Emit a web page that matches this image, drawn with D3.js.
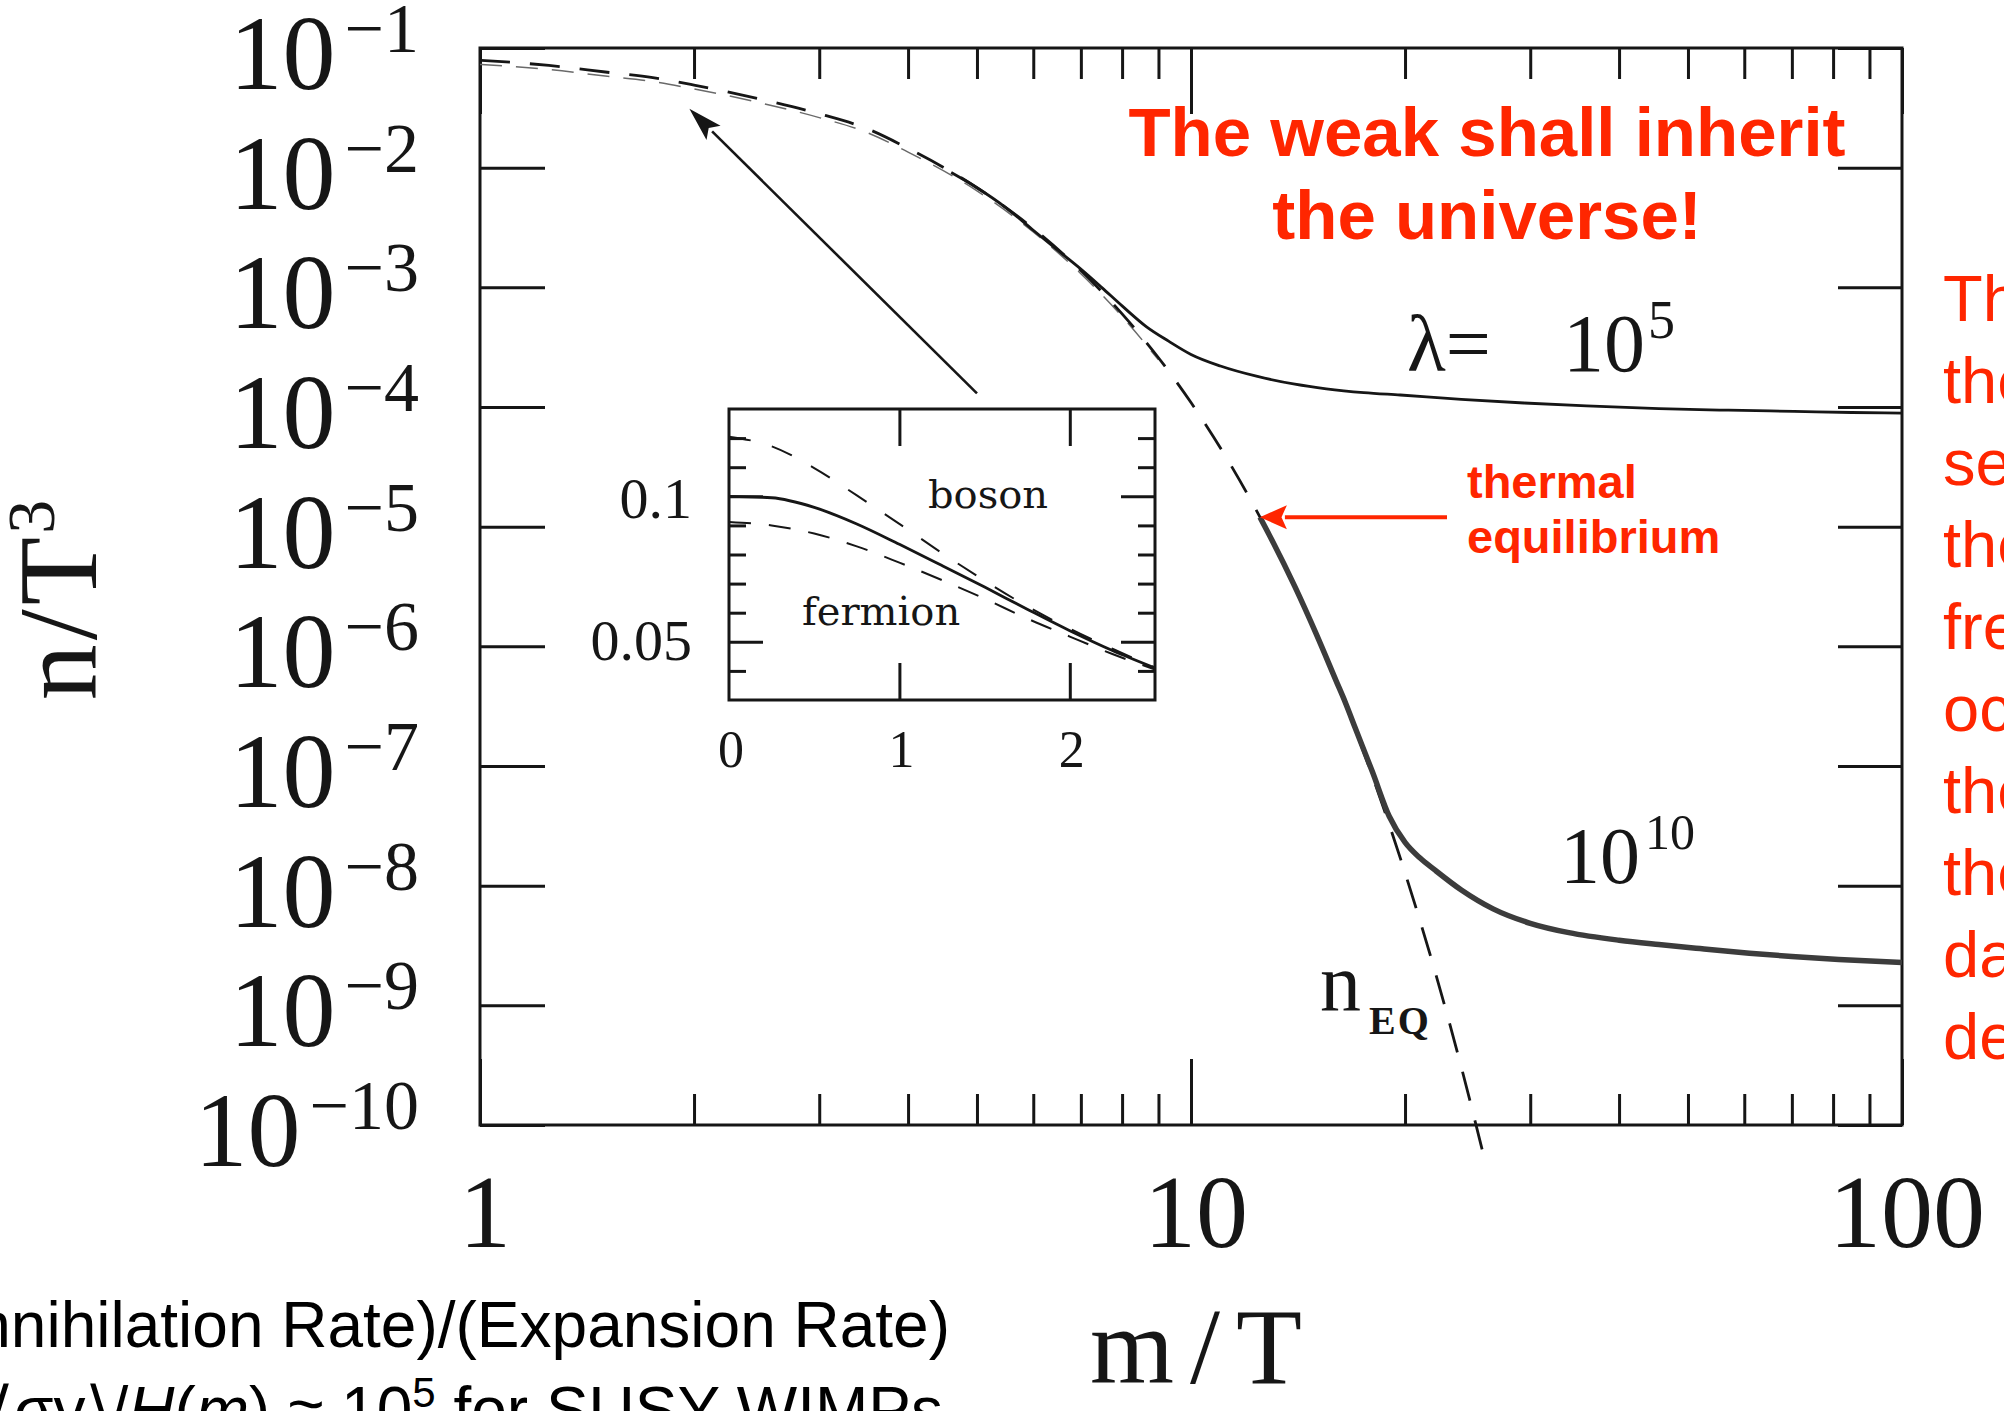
<!DOCTYPE html>
<html>
<head>
<meta charset="utf-8">
<script src="https://cdn.jsdelivr.net/npm/d3@7"></script>
<style>
  body { margin: 0; background: #ffffff; }
  svg { display: block; }
</style>
</head>
<body>
<svg id="chart" width="2004" height="1411"></svg>
<script>
// ---------- main panel: n/T^3 versus m/T ----------
const yExponents = [-1, -2, -3, -4, -5, -6, -7, -8, -9, -10];
const xTickLabels = ["1", "10", "100"];
const xMajorTicks = [1, 10, 100];
const xMinorTicks = [2, 3, 4, 5, 6, 7, 8, 9, 20, 30, 40, 50, 60, 70, 80, 90];

// equilibrium abundance n_EQ (dashed)
const eqX = [1, 1.25, 1.5, 1.75, 2, 2.5, 3, 3.5, 4, 5, 6, 7, 8, 9, 10, 12, 14, 16, 18, 20, 22, 24, 26];
const eqN = [0.079, 0.0715, 0.063, 0.0565, 0.049, 0.037, 0.0282, 0.0212, 0.0145, 0.0068, 0.0031,
             1.38e-3, 6.0e-4, 2.58e-4, 1.09e-4, 1.88e-5, 3.15e-6, 5.1e-7, 8.2e-8, 1.28e-8,
             1.99e-9, 3.04e-10, 4.6e-11];

// companion (fermion) equilibrium trace, thin dashes just under n_EQ
const eqFermiX = [1, 1.25, 1.5, 1.75, 2, 2.5, 3, 3.5, 4, 5, 6, 7, 8, 9];
const eqFermiN = [0.0728, 0.0662, 0.0583, 0.0524, 0.0455, 0.0344, 0.0262, 0.0197, 0.0135, 0.0064,
                  0.0029, 1.3e-3, 5.7e-4, 2.48e-4];

// actual abundance, lambda = 1e5
const lam5X = [4.6, 5, 5.5, 6, 6.5, 7, 7.5, 8, 8.65, 9.3, 10, 11, 12.4, 14, 15.5, 17.5, 19.7,
               24, 29.4, 36, 45.5, 57, 70.5, 85, 100];
const lam5N = [9.1e-3, 6.8e-3, 4.6e-3, 3.0e-3, 2.03e-3, 1.42e-3, 9.9e-4, 7.0e-4, 4.7e-4, 3.55e-4,
               2.75e-4, 2.2e-4, 1.8e-4, 1.55e-4, 1.42e-4, 1.32e-4, 1.26e-4, 1.16e-4, 1.08e-4,
               1.02e-4, 9.7e-5, 9.4e-5, 9.2e-5, 9.0e-5, 8.9e-5];

// actual abundance, lambda = 1e10
const lam10X = [12.5, 13, 14, 15, 16, 16.5, 17, 18, 19, 20, 21, 22, 24, 26.6, 30, 34, 40, 45.5,
                52, 61, 70, 81.5, 100];
const lam10N = [1.2e-5, 7.7e-6, 3.15e-6, 1.27e-6, 5.15e-7, 3.35e-7, 2.12e-7, 8.9e-8, 3.8e-8,
                2.3e-8, 1.7e-8, 1.36e-8, 9.2e-9, 6.4e-9, 4.85e-9, 4.05e-9, 3.5e-9, 3.22e-9,
                2.98e-9, 2.73e-9, 2.56e-9, 2.42e-9, 2.28e-9];

// ---------- inset: linear scale near m/T ~ 0 ----------
const insetX = [0, 0.25, 0.5, 0.75, 1, 1.25, 1.5, 1.75, 2, 2.25, 2.5];
const insetMB = [0.100, 0.0995, 0.0962, 0.0905, 0.0835, 0.0762, 0.0688, 0.0612, 0.0538, 0.0470, 0.0410];
const insetBoson = [0.1205, 0.1172, 0.1097, 0.1003, 0.0905, 0.0805, 0.0710, 0.0622, 0.0545, 0.0476, 0.0412];
const insetFermion = [0.0912, 0.0900, 0.0872, 0.0828, 0.0772, 0.0712, 0.0648, 0.0580, 0.0518, 0.0458, 0.0405];
const insetXTicks = [0, 1, 2];
const insetYMajor = [0.05, 0.1];
const insetYMinor = [0.04, 0.06, 0.07, 0.08, 0.09, 0.11, 0.12];
const insetYLabels = ["0.05", "0.1"];

// annotation arrows, in data coordinates
const pointerFrom = [5.0, 1.3e-4], pointerTo = [1.97, 0.031];
const eqArrowTo = [12.5, 1.2e-5];

// slide text
const headline = ["The weak shall inherit", "the universe!"];
const eqNote = ["thermal", "equilibrium"];
const sideNote = ["The relic abundance is", "the number density", "set at freeze-out;",
                  "the earlier", "freeze-out", "occurs, the", "the higher", "the final",
                  "dark matter", "density."];

const RED = "#ff2600";
const INK = "#161616";
const SERIF = "'Liberation Serif', 'Times New Roman', serif";
const SANS = "'Liberation Sans', Arial, Helvetica, sans-serif";

const svg = d3.select("#chart");
svg.append("rect").attr("width", 2004).attr("height", 1411).attr("fill", "#fff");

const plot = { left: 480, right: 1902, top: 48, bottom: 1125 };
const x = d3.scaleLog().domain([1, 100]).range([plot.left, plot.right]);
const y = d3.scaleLog().domain([1e-10, 1e-1]).range([plot.bottom, plot.top]);

// ---- axes (ticks point inward on all four sides) ----
function styleAxis(g) {
  g.select(".domain").remove();
  g.selectAll(".tick line").attr("stroke", INK).attr("stroke-width", 3);
  g.selectAll(".tick text").remove();
}
svg.append("g").attr("transform", `translate(0,${plot.bottom})`)
  .call(d3.axisBottom(x).tickValues(xMinorTicks).tickSize(-31).tickFormat("")).call(styleAxis);
svg.append("g").attr("transform", `translate(0,${plot.bottom})`)
  .call(d3.axisBottom(x).tickValues(xMajorTicks).tickSize(-66).tickFormat("")).call(styleAxis);
svg.append("g").attr("transform", `translate(0,${plot.top})`)
  .call(d3.axisTop(x).tickValues(xMinorTicks).tickSize(-31).tickFormat("")).call(styleAxis);
svg.append("g").attr("transform", `translate(0,${plot.top})`)
  .call(d3.axisTop(x).tickValues(xMajorTicks).tickSize(-66).tickFormat("")).call(styleAxis);
const decades = yExponents.map(e => Math.pow(10, e));
svg.append("g").attr("transform", `translate(${plot.left},0)`)
  .call(d3.axisLeft(y).tickValues(decades).tickSize(-65).tickFormat("")).call(styleAxis);
svg.append("g").attr("transform", `translate(${plot.right},0)`)
  .call(d3.axisRight(y).tickValues(decades).tickSize(-64).tickFormat("")).call(styleAxis);

svg.append("rect")
  .attr("x", plot.left).attr("y", plot.top)
  .attr("width", plot.right - plot.left).attr("height", plot.bottom - plot.top)
  .attr("fill", "none").attr("stroke", INK).attr("stroke-width", 3);

// ---- y tick labels 10^-n ----
const yLab = svg.append("g").attr("font-family", SERIF).attr("fill", INK);
yExponents.forEach(e => {
  const t = yLab.append("text")
    .attr("x", 419).attr("y", y(Math.pow(10, e)) + 41)
    .attr("text-anchor", "end");
  t.append("tspan").attr("font-size", 106).text("10");
  t.append("tspan").attr("font-size", 70).attr("dx", 9).attr("dy", -37).text("\u2212" + (-e));
});

// ---- x tick labels ----
svg.append("g").attr("font-family", SERIF).attr("fill", INK)
  .selectAll("text").data(xMajorTicks).join("text")
  .attr("x", d => x(d) + 5).attr("y", 1247)
  .attr("text-anchor", "middle").attr("font-size", 104)
  .text((d, i) => xTickLabels[i]);

// ---- axis titles ----
svg.append("text")
  .attr("x", 1196).attr("y", 1383).attr("text-anchor", "middle")
  .attr("font-family", SERIF).attr("font-size", 108).attr("fill", INK)
  .attr("textLength", 212).attr("lengthAdjust", "spacing")
  .text("m/T");

const yt = svg.append("text")
  .attr("transform", "translate(96,600) rotate(-90)")
  .attr("text-anchor", "middle")
  .attr("font-family", SERIF).attr("font-size", 112).attr("fill", INK);
yt.append("tspan").text("n");
yt.append("tspan").attr("dx", 4).text("/");
yt.append("tspan").attr("dx", 4).text("T");
yt.append("tspan").attr("font-size", 68).attr("dy", -42).attr("dx", 3).text("3");

// ---- curves ----
const line = d3.line().x(d => x(d[0])).y(d => y(d[1])).curve(d3.curveMonotoneX);
const zip = (a, b) => a.map((v, i) => [v, b[i]]);

const curves = svg.append("g").attr("fill", "none").attr("stroke-linecap", "butt");
curves.append("path").datum(zip(eqFermiX, eqFermiN))
  .attr("d", line).attr("stroke", "#6a6a6a").attr("stroke-width", 1.5)
  .attr("stroke-dasharray", "22,14");
curves.append("path").datum(zip(eqX, eqN))
  .attr("d", line).attr("stroke", INK).attr("stroke-width", 2.8)
  .attr("stroke-dasharray", "30,20");
curves.append("path").datum(zip(lam5X, lam5N))
  .attr("d", line).attr("stroke", INK).attr("stroke-width", 2.8);
curves.append("path").datum(zip(lam10X, lam10N))
  .attr("d", line).attr("stroke", "#3c3c3c").attr("stroke-width", 5.5);

// ---- curve labels ----
const lamLab = svg.append("g").attr("font-family", SERIF).attr("fill", INK);
lamLab.append("text").attr("x", 1407).attr("y", 371).attr("font-size", 80).text("\u03bb=");
const l5 = lamLab.append("text").attr("x", 1563).attr("y", 371);
l5.append("tspan").attr("font-size", 82).text("10");
l5.append("tspan").attr("font-size", 54).attr("dx", 3).attr("dy", -33).text("5");

const l10 = lamLab.append("text").attr("x", 1560).attr("y", 883);
l10.append("tspan").attr("font-size", 80).text("10");
l10.append("tspan").attr("font-size", 50).attr("dx", 5).attr("dy", -34).text("10");

lamLab.append("text").attr("x", 1320).attr("y", 1010).attr("font-size", 82).text("n");
lamLab.append("text").attr("x", 1369).attr("y", 1034).attr("font-size", 40)
  .attr("font-weight", "bold").attr("letter-spacing", 2).text("EQ");

// ---- arrowheads ----
function arrow(g, x0, y0, x1, y1, color, width, headLen, headHalf) {
  const a = Math.atan2(y1 - y0, x1 - x0);
  const bx = x1 - headLen * Math.cos(a), by = y1 - headLen * Math.sin(a);
  g.append("line").attr("x1", x0).attr("y1", y0).attr("x2", bx + 2 * Math.cos(a)).attr("y2", by + 2 * Math.sin(a))
    .attr("stroke", color).attr("stroke-width", width);
  const px = -Math.sin(a) * headHalf, py = Math.cos(a) * headHalf;
  g.append("path")
    .attr("d", `M${x1},${y1}L${bx + px},${by + py}L${bx + headLen * 0.2 * Math.cos(a)},${by + headLen * 0.2 * Math.sin(a)}L${bx - px},${by - py}Z`)
    .attr("fill", color);
}
const ann = svg.append("g");
arrow(ann, x(pointerFrom[0]), y(pointerFrom[1]), x(pointerTo[0]), y(pointerTo[1]), INK, 2.6, 34, 10);
arrow(ann, 1447, y(eqArrowTo[1]), x(eqArrowTo[0]), y(eqArrowTo[1]), RED, 4, 27, 12);

// ---- inset panel ----
const inset = { left: 729, top: 409, width: 426, height: 291 };
const ix = d3.scaleLinear().domain([0, 2.5]).range([0, inset.width]);
const iy = d3.scaleLinear().domain([0.03, 0.13]).range([inset.height, 0]);
const ig = svg.append("g").attr("transform", `translate(${inset.left},${inset.top})`);
ig.append("rect").attr("width", inset.width).attr("height", inset.height).attr("fill", "#fff");

function styleInset(g) {
  g.select(".domain").remove();
  g.selectAll(".tick line").attr("stroke", INK).attr("stroke-width", 3);
  g.selectAll(".tick text").remove();
}
const ixInner = insetXTicks.filter(v => v > 0);
ig.append("g").attr("transform", `translate(0,${inset.height})`)
  .call(d3.axisBottom(ix).tickValues(ixInner).tickSize(-37).tickFormat("")).call(styleInset);
ig.append("g")
  .call(d3.axisTop(ix).tickValues(ixInner).tickSize(-37).tickFormat("")).call(styleInset);
ig.append("g")
  .call(d3.axisLeft(iy).tickValues(insetYMinor).tickSize(-17).tickFormat("")).call(styleInset);
ig.append("g")
  .call(d3.axisLeft(iy).tickValues(insetYMajor).tickSize(-34).tickFormat("")).call(styleInset);
ig.append("g").attr("transform", `translate(${inset.width},0)`)
  .call(d3.axisRight(iy).tickValues(insetYMinor).tickSize(-17).tickFormat("")).call(styleInset);
ig.append("g").attr("transform", `translate(${inset.width},0)`)
  .call(d3.axisRight(iy).tickValues(insetYMajor).tickSize(-34).tickFormat("")).call(styleInset);

const iline = d3.line().x(d => ix(d[0])).y(d => iy(d[1])).curve(d3.curveMonotoneX);
const ic = ig.append("g").attr("fill", "none");
ic.append("path").datum(zip(insetX, insetBoson)).attr("d", iline)
  .attr("stroke", INK).attr("stroke-width", 2).attr("stroke-dasharray", "22,22");
ic.append("path").datum(zip(insetX, insetFermion)).attr("d", iline)
  .attr("stroke", INK).attr("stroke-width", 2).attr("stroke-dasharray", "22,18");
ic.append("path").datum(zip(insetX, insetMB)).attr("d", iline)
  .attr("stroke", INK).attr("stroke-width", 2.8);

ig.append("rect").attr("width", inset.width).attr("height", inset.height)
  .attr("fill", "none").attr("stroke", INK).attr("stroke-width", 3);

ig.append("text").attr("x", 199).attr("y", 99).attr("font-family", "'DejaVu Serif', serif")
  .attr("font-size", 40).attr("fill", INK).text("boson");
ig.append("text").attr("x", 73).attr("y", 216).attr("font-family", "'DejaVu Serif', serif")
  .attr("font-size", 40).attr("fill", INK).text("fermion");

// inset tick labels
svg.append("g").attr("font-family", SERIF).attr("fill", INK).attr("font-size", 58)
  .selectAll("text").data(insetYMajor).join("text")
  .attr("x", 692).attr("y", (d, i) => inset.top + iy(d) + (i === 0 ? 18 : 22))
  .attr("text-anchor", "end").text((d, i) => insetYLabels[i]);
svg.append("g").attr("font-family", SERIF).attr("fill", INK).attr("font-size", 52)
  .selectAll("text").data(insetXTicks).join("text")
  .attr("x", d => inset.left + ix(d) + 2).attr("y", 767)
  .attr("text-anchor", "middle").text(d => String(d));

// ---- red slide annotations ----
const head = svg.append("g").attr("font-family", SANS).attr("font-weight", "bold")
  .attr("font-size", 69).attr("fill", RED).attr("text-anchor", "middle");
head.append("text").attr("x", 1487).attr("y", 156).text(headline[0]);
head.append("text").attr("x", 1487).attr("y", 239).text(headline[1]);

const note = svg.append("g").attr("font-family", SANS).attr("font-weight", "bold")
  .attr("font-size", 47).attr("fill", RED);
note.append("text").attr("x", 1467).attr("y", 498).text(eqNote[0]);
note.append("text").attr("x", 1467).attr("y", 553).text(eqNote[1]);

svg.append("g").attr("font-family", SANS).attr("font-size", 65).attr("fill", RED)
  .selectAll("text").data(sideNote).join("text")
  .attr("x", 1943).attr("y", (d, i) => 321 + i * 82).text(d => d);

// ---- caption under the plot ----
const cap = svg.append("g").attr("font-family", SANS).attr("font-size", 64).attr("fill", "#000")
  .attr("text-anchor", "end");
cap.append("text").attr("x", 950).attr("y", 1347).text("(Annihilation Rate)/(Expansion Rate)");
const c2 = cap.append("text").attr("x", 943).attr("y", 1432);
c2.append("tspan").text("\u03bb = \u27e8\u03c3v\u27e9/");
c2.append("tspan").attr("font-style", "italic").text("H");
c2.append("tspan").text("(");
c2.append("tspan").attr("font-style", "italic").text("m");
c2.append("tspan").text(") \u2248 10");
c2.append("tspan").attr("font-size", 42).attr("dy", -25).text("5");
c2.append("tspan").attr("dy", 25).text(" for SUSY WIMPs");
</script>
</body>
</html>
